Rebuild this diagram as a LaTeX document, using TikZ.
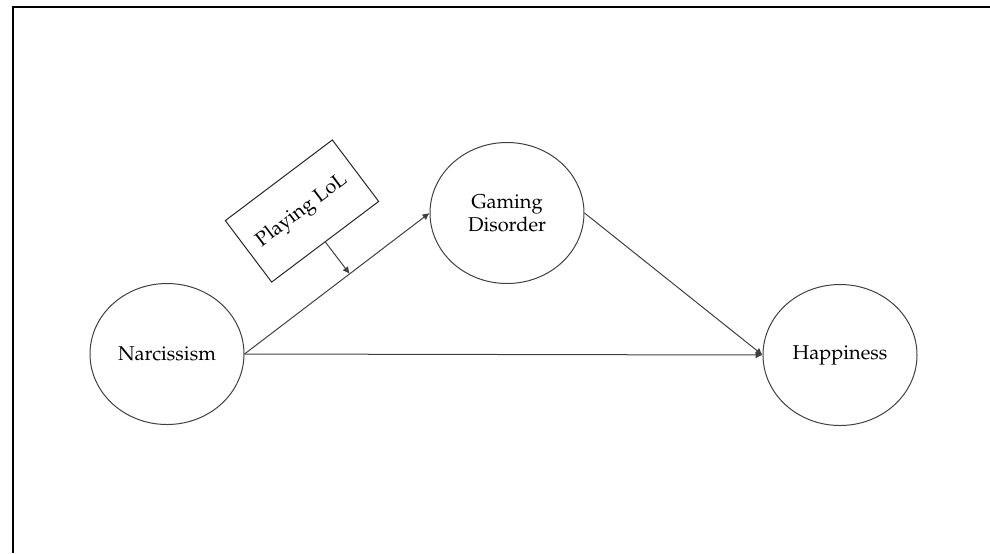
\documentclass[tikz,border=0pt]{standalone}
\usepackage[T1]{fontenc}
\usepackage{mathpazo}
\usetikzlibrary{shapes.geometric,arrows.meta,calc}
\begin{document}
\begin{tikzpicture}[x=0.5pt,y=-0.5pt,
  every node/.style={font=\fontsize{10}{11.5}\selectfont},
  circ/.style={ellipse,draw=black!75,line width=0.5pt,minimum width=77pt,minimum height=70.5pt,inner sep=0pt,align=center},
  modbox/.style={rectangle,draw=black!85,line width=0.5pt,minimum width=67pt,minimum height=38.5pt,inner sep=0pt,rotate=37},
  conn/.style={draw=black!75,line width=0.5pt,-{Latex[length=3.5pt,width=3.5pt]}},
  frameline/.style={line width=1pt,black}]
\useasboundingbox (0,0) rectangle (990,553);
\coordinate (ftl) at (12.5,6.5);
\coordinate (ftr) at (990,6.5);
\coordinate (fbl) at (12.5,553);
\draw[frameline] (fbl) -- (ftl) -- (ftr);
\node[circ] (narc) at (167,354) {Narcissism};
\node[circ] (gd) at (507,213) {Gaming\\Disorder};
\node[circ] (happ) at (840,355) {Happiness};
\node[modbox] (lol) at (302,211) {Playing LoL};
\draw[conn] (narc.east) -- (gd.west);
\draw[conn] (narc.east) -- (happ.west);
\draw[conn] (gd.east) -- (happ.west);
\coordinate (foot) at ($(narc.east)!(lol.south)!(gd.west)$);
\draw[conn] (lol.south) -- (foot);
\end{tikzpicture}
\end{document}
